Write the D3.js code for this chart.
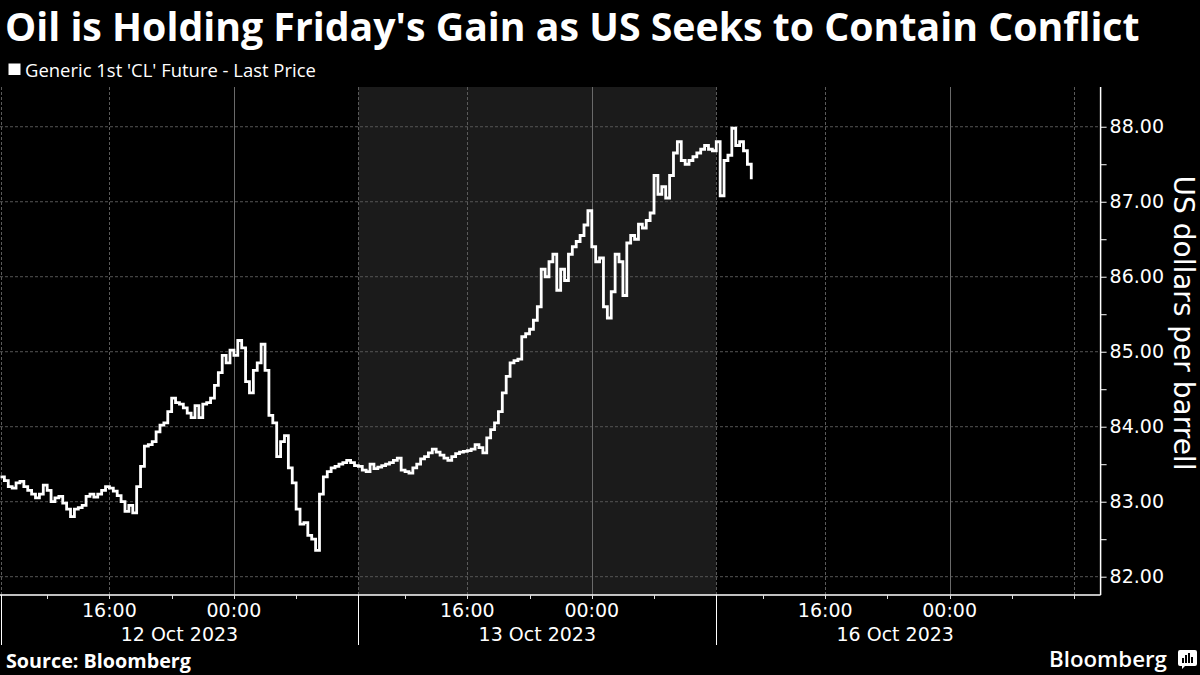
<!DOCTYPE html>
<html>
<head>
<meta charset="utf-8">
<script src="https://cdn.jsdelivr.net/npm/d3@7"></script>
<style>
  html, body { margin: 0; padding: 0; background: #000; }
  svg { display: block; }
</style>
</head>
<body>
<div id="chart"></div>
<script>
// trading sessions run 09:00 -> 08:00 next day (23 hours), prices every 15 min
var sessionLabels = ["12 Oct 2023", "13 Oct 2023", "16 Oct 2023"];
var hourLabels = [{ "offset": 7, "text": "16:00" }, { "offset": 15, "text": "00:00" }];
var minorTickOffsets = [3, 7, 11, 15, 19, 23];

var prices12 = [
  83.33, 83.28, 83.20, 83.18, 83.25, 83.27, 83.20, 83.15, 83.10, 83.05,
  83.10, 83.22, 83.15, 83.00, 83.05, 83.07, 82.98, 82.90, 82.80, 82.90,
  82.92, 82.95, 83.07, 83.10, 83.06, 83.10, 83.15, 83.20, 83.18, 83.14,
  83.08, 83.00, 82.87, 82.95, 82.85, 83.20, 83.47, 83.74, 83.76, 83.80,
  83.93, 84.02, 84.05, 84.20, 84.38, 84.32, 84.30, 84.25, 84.18, 84.12,
  84.28, 84.12, 84.30, 84.32, 84.38, 84.55, 84.72, 84.95, 84.85, 85.02,
  84.95, 85.15, 85.05, 84.60, 84.45, 84.75, 84.85, 85.10, 84.75, 84.15,
  84.05, 83.60, 83.80, 83.88, 83.45, 83.25, 82.90, 82.70, 82.72, 82.55,
  82.50, 82.35, 83.10, 83.33, 83.40, 83.45, 83.47, 83.50, 83.52, 83.55,
  83.52, 83.48
];
var prices13 = [
  83.47, 83.42, 83.40, 83.50, 83.44, 83.46, 83.48, 83.50, 83.52, 83.55,
  83.58, 83.42, 83.40, 83.38, 83.45, 83.50, 83.57, 83.60, 83.65, 83.70,
  83.66, 83.62, 83.58, 83.55, 83.60, 83.64, 83.66, 83.67, 83.68, 83.70,
  83.76, 83.72, 83.65, 83.85, 83.96, 84.05, 84.20, 84.45, 84.67, 84.85,
  84.88, 84.90, 85.20, 85.24, 85.30, 85.42, 85.60, 86.10, 86.00, 86.20,
  86.30, 85.82, 86.10, 85.95, 86.30, 86.40, 86.47, 86.55, 86.69, 86.88,
  86.40, 86.20, 86.25, 85.60, 85.45, 85.80, 86.30, 86.20, 85.75, 86.45,
  86.55, 86.50, 86.70, 86.65, 86.75, 86.85, 87.35, 87.10, 87.20, 87.05,
  87.35, 87.65, 87.80, 87.55, 87.50, 87.55, 87.60, 87.65, 87.70, 87.75,
  87.70, 87.68
];
var prices16 = [87.80, 87.08, 87.55, 87.62, 87.98, 87.75, 87.80, 87.68, 87.50, 87.30];

var yTicks = [82, 83, 84, 85, 86, 87, 88];

var width = 1200, height = 675;
var sessionHours = 23;
var plotTop = 87, plotBottom = 595, plotRight = 1100.6;

var svg = d3.select("#chart")
  .append("svg")
  .attr("width", width)
  .attr("height", height)
  .style("background", "#000");

var x = d3.scaleLinear().domain([0, 70.7]).range([0.5, plotRight]);
var y = d3.scaleLinear().domain([81.756, 88.53]).range([plotBottom, plotTop]);

// flatten sessions into trading-hour positions
var series = [];
[prices12, prices13, prices16].forEach(function (arr, s) {
  arr.forEach(function (v, i) {
    series.push({ "t": s * sessionHours + i * 0.25, "v": v });
  });
});

// shaded middle session
svg.append("rect")
  .attr("x", x(sessionHours))
  .attr("y", plotTop)
  .attr("width", x(2 * sessionHours) - x(sessionHours))
  .attr("height", plotBottom - plotTop)
  .attr("fill", "#1b1b1b");

// horizontal grid
svg.append("g")
  .selectAll("line")
  .data(yTicks)
  .enter()
  .append("line")
  .attr("x1", 0)
  .attr("x2", plotRight)
  .attr("y1", (d) => y(d))
  .attr("y2", (d) => y(d))
  .attr("stroke", "#555")
  .attr("stroke-dasharray", "3,2");

// vertical grid: 00:00 solid, 16:00 and session edges dashed
var vGrid = [];
sessionLabels.forEach(function (lab, s) {
  vGrid.push({ "t": s * sessionHours, "kind": "edge" });
  vGrid.push({ "t": s * sessionHours + 7, "kind": "dash" });
  vGrid.push({ "t": s * sessionHours + 15, "kind": "solid" });
});
vGrid.push({ "t": 3 * sessionHours, "kind": "dash" });

svg.append("g")
  .selectAll("line")
  .data(vGrid)
  .enter()
  .append("line")
  .attr("x1", (d) => Math.round(x(d.t)) + 0.5)
  .attr("x2", (d) => Math.round(x(d.t)) + 0.5)
  .attr("y1", plotTop)
  .attr("y2", plotBottom)
  .attr("stroke", (d) => d.kind == "solid" ? "#6a6a6a" : "#5a5a5a")
  .attr("stroke-dasharray", (d) => d.kind == "solid" ? null : "3,2");

// price line (stepped like the tick feed)
var line = d3.line()
  .curve(d3.curveStepAfter)
  .x((d) => x(d.t))
  .y((d) => y(d.v));

svg.append("path")
  .datum(series)
  .attr("d", line)
  .attr("fill", "none")
  .attr("stroke", "#fff")
  .attr("stroke-width", 2.8)
  .attr("stroke-linejoin", "miter");

// bottom axis
svg.append("line")
  .attr("x1", 0).attr("x2", plotRight)
  .attr("y1", plotBottom).attr("y2", plotBottom)
  .attr("stroke", "#fff").attr("stroke-width", 1.5);

var minorTicks = [];
sessionLabels.forEach(function (lab, s) {
  minorTickOffsets.forEach((o) => minorTicks.push(s * sessionHours + o));
});

svg.append("g")
  .selectAll("line")
  .data(minorTicks)
  .enter()
  .append("line")
  .attr("x1", (d) => Math.round(x(d)) + 0.5)
  .attr("x2", (d) => Math.round(x(d)) + 0.5)
  .attr("y1", plotBottom)
  .attr("y2", plotBottom + 4)
  .attr("stroke", "#ddd");

// session separators below the axis
svg.append("g")
  .selectAll("line")
  .data([0, 1, 2])
  .enter()
  .append("line")
  .attr("x1", (d) => Math.round(x(d * sessionHours)) + 0.5)
  .attr("x2", (d) => Math.round(x(d * sessionHours)) + 0.5)
  .attr("y1", plotBottom)
  .attr("y2", 645)
  .attr("stroke", "#fff");

var hourTicks = [];
sessionLabels.forEach(function (lab, s) {
  hourLabels.forEach((h) => hourTicks.push({ "t": s * sessionHours + h.offset, "text": h.text }));
});

svg.append("g")
  .selectAll("text")
  .data(hourTicks)
  .enter()
  .append("text")
  .attr("x", (d) => x(d.t))
  .attr("y", 617)
  .attr("text-anchor", "middle")
  .attr("fill", "#fff")
  .attr("font-family", "DejaVu Sans")
  .attr("font-size", 19)
  .text((d) => d.text);

svg.append("g")
  .selectAll("text")
  .data(sessionLabels)
  .enter()
  .append("text")
  .attr("x", (d, i) => x(i * sessionHours + sessionHours / 2))
  .attr("y", 641)
  .attr("text-anchor", "middle")
  .attr("fill", "#fff")
  .attr("font-family", "DejaVu Sans")
  .attr("font-size", 19)
  .text((d) => d);

// right axis
var yAxis = d3.axisRight(y)
  .tickValues(d3.range(82, 88.01, 0.5))
  .tickSize(6)
  .tickFormat((d) => Number.isInteger(d) ? d.toFixed(2) : "");

var yg = svg.append("g")
  .attr("transform", "translate(" + plotRight + ",0)")
  .call(yAxis);
yg.select(".domain").attr("stroke", "#fff").attr("stroke-width", 1.5)
  .attr("d", "M0," + plotTop + "V" + plotBottom);
yg.selectAll(".tick line").attr("stroke", "#fff");
yg.selectAll(".tick text")
  .attr("fill", "#fff")
  .attr("font-family", "DejaVu Sans")
  .attr("font-size", 19)
  .attr("x", 9);

svg.append("text")
  .attr("transform", "translate(1174,323) rotate(90)")
  .attr("text-anchor", "middle")
  .attr("fill", "#fff")
  .attr("font-family", "DejaVu Sans")
  .attr("font-size", 28)
  .text("US dollars per barrell");

// title, legend, footer
function fitWidth(sel, w) {
  var fs = parseFloat(sel.attr("font-size"));
  sel.attr("font-size", fs * w / sel.node().getComputedTextLength());
}

var title = svg.append("text")
  .attr("x", 5).attr("y", 41)
  .attr("fill", "#fff")
  .attr("font-family", "Open Sans")
  .attr("font-weight", 700)
  .attr("font-size", 36)
  .text("Oil is Holding Friday's Gain as US Seeks to Contain Conflict");
fitWidth(title, 1135);

svg.append("rect")
  .attr("x", 8.5).attr("y", 63.5)
  .attr("width", 12).attr("height", 11.5)
  .attr("fill", "#fff");

var legend = svg.append("text")
  .attr("x", 25).attr("y", 76.5)
  .attr("fill", "#fff")
  .attr("font-family", "Open Sans")
  .attr("font-size", 18)
  .text("Generic 1st 'CL' Future - Last Price");
fitWidth(legend, 291);

var source = svg.append("text")
  .attr("x", 6).attr("y", 668)
  .attr("fill", "#fff")
  .attr("font-family", "Open Sans")
  .attr("font-weight", 700)
  .attr("font-size", 17)
  .text("Source: Bloomberg");
fitWidth(source, 185);

var brand = svg.append("text")
  .attr("x", 1049).attr("y", 667)
  .attr("fill", "#fff")
  .attr("font-family", "Open Sans")
  .attr("font-weight", 600)
  .attr("font-size", 22)
  .text("Bloomberg");
fitWidth(brand, 118);

// little terminal icon next to the wordmark
var icon = svg.append("g").attr("transform", "translate(1178,650)");
icon.append("path")
  .attr("d", "M2,0H17Q19,0 19,2V14Q19,16 17,16H7L4,19V16H2Q0,16 0,14V2Q0,0 2,0Z")
  .attr("fill", "#fff");
icon.selectAll("rect")
  .data([[4, 8], [7, 5], [10, 3], [13, 7]])
  .enter()
  .append("rect")
  .attr("x", (d) => d[0])
  .attr("y", (d) => d[1])
  .attr("width", 2)
  .attr("height", (d) => 13 - d[1])
  .attr("fill", "#000");
</script>
</body>
</html>
